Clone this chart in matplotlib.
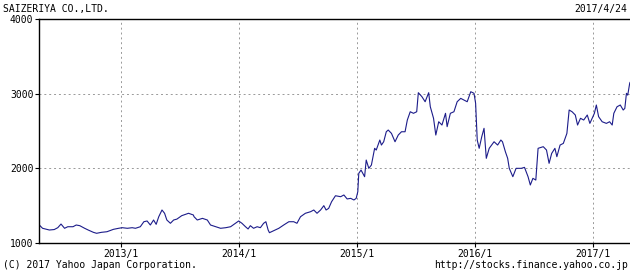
import pandas as pd
import matplotlib
matplotlib.use('Agg')
import matplotlib.pyplot as plt
import matplotlib.dates as mdates

# 株価データ（チャートから読み取り）
dates = [
    '2012-04-25', '2012-05-05', '2012-05-26', '2012-06-10', '2012-06-21', '2012-07-01',
    '2012-07-12', '2012-07-22', '2012-08-07', '2012-08-17', '2012-08-28', '2012-09-12',
    '2012-09-23', '2012-10-09', '2012-10-19', '2012-11-03', '2012-11-20', '2012-12-10',
    '2012-12-26', '2013-01-06', '2013-01-22', '2013-02-06', '2013-02-16', '2013-03-03',
    '2013-03-14', '2013-03-24', '2013-04-03', '2013-04-13', '2013-04-21', '2013-04-29',
    '2013-05-09', '2013-05-17', '2013-05-24', '2013-06-04', '2013-06-14', '2013-06-24',
    '2013-07-09', '2013-07-30', '2013-08-14', '2013-08-16', '2013-08-26', '2013-09-11',
    '2013-09-26', '2013-10-06', '2013-10-22', '2013-11-06', '2013-11-22', '2013-12-07',
    '2013-12-22', '2014-01-01', '2014-01-11', '2014-01-22', '2014-01-30', '2014-02-06',
    '2014-02-16', '2014-02-27', '2014-03-09', '2014-03-19', '2014-03-26', '2014-04-02',
    '2014-04-06', '2014-04-19', '2014-05-05', '2014-05-20', '2014-06-05', '2014-06-20',
    '2014-06-30', '2014-07-11', '2014-07-26', '2014-08-11', '2014-08-21', '2014-08-31',
    '2014-09-11', '2014-09-21', '2014-09-28', '2014-10-06', '2014-10-15', '2014-10-27',
    '2014-11-12', '2014-11-22', '2014-12-02', '2014-12-13', '2014-12-23', '2014-12-30',
    '2015-01-04', '2015-01-07', '2015-01-14', '2015-01-25', '2015-01-30', '2015-02-07',
    '2015-02-15', '2015-02-25', '2015-03-02', '2015-03-13', '2015-03-18', '2015-03-25',
    '2015-04-02', '2015-04-08', '2015-04-18', '2015-04-29', '2015-05-09', '2015-05-19',
    '2015-05-30', '2015-06-06', '2015-06-15', '2015-06-25', '2015-07-05', '2015-07-10',
    '2015-07-21', '2015-07-31', '2015-08-11', '2015-08-16', '2015-08-26', '2015-09-02',
    '2015-09-11', '2015-09-21', '2015-10-02', '2015-10-07', '2015-10-17', '2015-10-28',
    '2015-11-07', '2015-11-18', '2015-11-28', '2015-12-08', '2015-12-19', '2015-12-29',
    '2016-01-03', '2016-01-08', '2016-01-14', '2016-01-22', '2016-01-29', '2016-02-05',
    '2016-02-14', '2016-02-29', '2016-03-11', '2016-03-21', '2016-03-26', '2016-04-04',
    '2016-04-11', '2016-04-16', '2016-04-27', '2016-05-07', '2016-05-23', '2016-06-02',
    '2016-06-13', '2016-06-20', '2016-06-28', '2016-07-07', '2016-07-14', '2016-07-30',
    '2016-08-09', '2016-08-17', '2016-08-25', '2016-09-04', '2016-09-10', '2016-09-20',
    '2016-09-30', '2016-10-11', '2016-10-18', '2016-10-27', '2016-11-06', '2016-11-13',
    '2016-11-22', '2016-12-02', '2016-12-13', '2016-12-21', '2017-01-04', '2017-01-10',
    '2017-01-17', '2017-01-28', '2017-02-10', '2017-02-20', '2017-02-28', '2017-03-05',
    '2017-03-15', '2017-03-25', '2017-04-03', '2017-04-08', '2017-04-13', '2017-04-17',
    '2017-04-23', '2017-04-24',
]
prices = [
    1241, 1197, 1174, 1180, 1205, 1254,
    1197, 1218, 1218, 1241, 1232, 1197,
    1174, 1143, 1130, 1143, 1151, 1183,
    1197, 1205, 1197, 1205, 1197, 1218,
    1285, 1295, 1241, 1308, 1250, 1352,
    1442, 1398, 1308, 1264, 1308, 1320,
    1366, 1398, 1375, 1352, 1308, 1330,
    1308, 1241, 1218, 1197, 1205, 1218,
    1264, 1295, 1264, 1218, 1188, 1232,
    1197, 1218, 1205, 1264, 1285, 1174,
    1138, 1165, 1197, 1241, 1285, 1285,
    1264, 1352, 1398, 1419, 1442, 1398,
    1442, 1500, 1442, 1464, 1553, 1633,
    1620, 1643, 1590, 1598, 1576, 1598,
    1687, 1933, 1977, 1888, 2111, 2000,
    2044, 2268, 2245, 2379, 2312, 2356,
    2490, 2513, 2468, 2356, 2446, 2490,
    2490, 2647, 2758, 2737, 2758, 3013,
    2960, 2892, 3013, 2825, 2670, 2446,
    2624, 2580, 2737, 2558, 2737, 2758,
    2892, 2937, 2915, 2892, 3026, 3005,
    2871, 2379, 2268, 2424, 2536, 2134,
    2268, 2356, 2312, 2379, 2356, 2222,
    2134, 2000, 1888, 2000, 2000, 2013,
    1888, 1777, 1866, 1843, 2268, 2290,
    2245, 2067, 2200, 2268, 2156, 2312,
    2334, 2468, 2781, 2758, 2714, 2580,
    2670, 2647, 2714, 2602, 2737, 2848,
    2692, 2624, 2602, 2624, 2580, 2737,
    2825, 2848, 2781, 2803, 3005, 2980,
    3138, 3150,
]
yticks = [1000, 2000, 3000, 4000]
xticks = ['2013-01-01', '2014-01-01', '2015-01-01', '2016-01-01', '2017-01-01']
xlabels = ['2013/1', '2014/1', '2015/1', '2016/1', '2017/1']

df = pd.DataFrame({'date': pd.to_datetime(dates), 'price': prices})

plt.rcParams['font.family'] = ['DejaVu Sans Mono']
W, H = 630, 273
fig = plt.figure(figsize=(W / 100, H / 100), dpi=100)
ax = fig.add_axes([39 / W, 30 / H, 591 / W, 224 / H])

ax.plot(df['date'], df['price'], color='#1c1c8a', lw=0.8)

ax.set_xlim(pd.Timestamp('2012-04-24'), pd.Timestamp('2017-04-24'))
ax.set_ylim(1000, 4000)
ax.set_yticks(yticks)
ax.set_yticklabels([str(v) for v in yticks], fontsize=7)
ax.set_xticks(pd.to_datetime(xticks))
ax.set_xticklabels(xlabels, fontsize=7)
ax.tick_params(length=3, width=0.8, pad=1, color='black')
ax.grid(True, linestyle=(0, (2, 3)), color='#999999', lw=0.7)
for s in ax.spines.values():
    s.set_linewidth(1)
ax.spines['right'].set_visible(False)

fig.text(3 / W, 1 - 9 / H, 'SAIZERIYA CO.,LTD.', fontsize=7, va='center', ha='left')
fig.text(627 / W, 1 - 9 / H, '2017/4/24', fontsize=7, va='center', ha='right')
fig.text(3 / W, 1 - 265 / H, '(C) 2017 Yahoo Japan Corporation.', fontsize=7, va='center', ha='left')
fig.text(628 / W, 1 - 265 / H, 'http://stocks.finance.yahoo.co.jp', fontsize=7, va='center', ha='right')

fig.savefig('out.png', dpi=100)
